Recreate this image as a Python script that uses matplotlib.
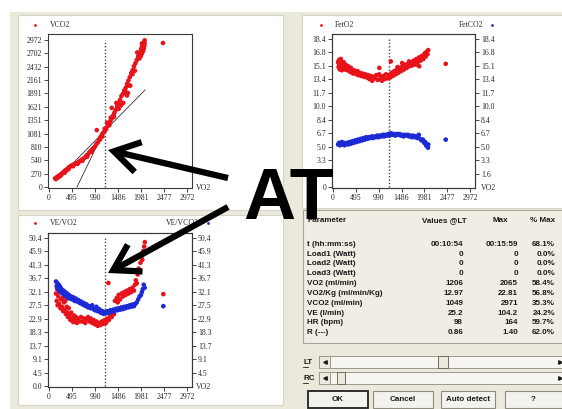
import matplotlib
matplotlib.use('Agg')
import numpy as np
import matplotlib.pyplot as plt
from matplotlib.patches import Rectangle, FancyArrowPatch

W, H = 562, 409
plt.rcParams['font.family'] = ['Liberation Serif', 'DejaVu Serif']

# ---------------- data ----------------
vo2_tick_labels = ['0', '495', '990', '1486', '1981', '2477', '2972']
vco2_tick_labels = ['0', '270', '540', '810', '1081', '1351', '1621', '1891', '2161', '2432', '2702', '2972']
fe_tick_labels = ['0', '1.6', '3.3', '5.0', '6.7', '8.4', '10.0', '11.7', '13.4', '15.1', '16.8', '18.4']
eq_tick_labels = ['0.0', '4.5', '9.1', '13.7', '18.3', '22.9', '27.5', '32.1', '36.7', '41.3', '45.9', '50.4']
vo2_max_tick = 2972
vco2_max_tick = 2972
fe_max_tick = 18.4
eq_max_tick = 50.4
at_vo2 = 1206

# VCO2 vs VO2 (V-slope)
vco2_pts = [(130,175),(150,160),(170,200),(190,190),(210,230),(230,215),(250,250),(270,265),(290,280),
            (310,300),(330,315),(350,340),(370,330),(390,360),(410,380),(430,400),(450,410),(480,430),
            (510,445),(540,455),(570,470),(600,480),(630,500),(660,520),(690,545),(720,560),(750,580),
            (780,600),(810,640),(840,660),(870,700),(900,730),(930,760),(960,790),(990,820),(1020,870),
            (1050,900),(1080,950),(1110,1010),(1140,1060),(1170,1100),(1200,1130),(1230,1170),(1260,1230),
            (1290,1290),(1320,1330),(1350,1380),(1380,1440),(1410,1500),(1440,1560),(1470,1640),(1500,1700),
            (1530,1760),(1560,1840),(1590,1880),(1620,1950),(1650,2000),(1680,2080),(1710,2150),(1740,2220),
            (1770,2300),(1800,2360),(1830,2440),(1860,2500),(1890,2570),(1920,2640),(1950,2700),(1980,2780),
            (2000,2830),(2020,2880),(2040,2920),(2060,2965),
            (1030,1150),(1100,960),(1150,1020),(1200,1180),(1250,1300),(1300,1250),(1330,1400),(1350,1600),
            (1400,1420),(1450,1700),(1500,1580),(1550,1650),(1600,1700),(1650,1920),(1680,1850),(1700,1900),
            (1720,2050),(1750,2050),(1800,2280),(1850,2350),(1900,2720),(1950,2600),(2000,2700),(2030,2750),
            (2050,2850),(2060,2900),(2000,2900),(1980,2650),(2040,2800),
            (180,200),(260,240),(340,290),(420,360),(520,420),(620,470),(720,530),(820,610),(920,710),
            (2455,2911)]
vslope_low_vo2 = [200, 2068]
vslope_low_vco2 = [180, 1961]
vslope_high_vo2 = [603, 1990]
vslope_high_vco2 = [0, 2700]

# FetO2 / FetCO2 vs VO2
feto2_pts = [(110,15.5),(120,14.9),(125,15.7),(130,15.3),(140,15.8),(145,14.6),(150,15.0),(160,15.4),
             (170,15.9),(175,14.7),(185,15.6),(190,14.5),(200,15.2),(215,14.8),(230,15.5),(245,15.0),
             (260,14.6),(275,15.2),(290,14.9),(310,14.5),(330,15.0),(350,14.6),(370,14.3),(390,14.8),
             (410,14.4),(430,14.1),(455,14.5),(480,14.2),(505,14.0),(530,14.4),(555,13.9),(580,14.2),
             (610,13.8),(640,14.1),(670,13.7),(700,14.0),(730,13.6),(760,13.9),(790,13.4),(820,13.8),
             (850,13.2),(880,13.7),(910,13.5),(940,13.9),(970,13.3),(1000,14.0),(1005,14.8),(1030,13.6),
             (1060,13.2),(1090,13.8),(1120,13.4),(1150,14.0),(1180,13.5),(1210,13.9),(1240,13.6),
             (1254,15.6),(1270,14.2),(1300,13.8),(1330,14.4),(1360,14.0),(1390,14.6),(1420,14.2),
             (1450,14.8),(1480,14.4),(1510,15.0),(1540,14.6),(1570,15.2),(1600,14.8),(1630,15.3),
             (1660,15.0),(1690,15.5),(1720,15.1),(1750,15.7),(1780,15.3),(1810,15.9),(1840,15.5),
             (1870,16.1),(1900,15.7),(1930,16.3),(1960,15.9),(1990,16.6),(2010,16.2),(2030,16.8),
             (2050,16.5),(2065,17.0),(1500,15.4),(1650,15.6),(1800,15.2),(1400,14.9),(1870,15.0),
             (2445,15.3)]
fetco2_pts = [(110,5.3),(130,5.5),(150,5.2),(170,5.4),(190,5.6),(210,5.3),(230,5.5),(250,5.2),(270,5.4),
              (300,5.5),(330,5.3),(360,5.6),(390,5.4),(420,5.7),(450,5.5),(480,5.8),(510,5.6),(540,5.9),
              (570,5.7),(600,6.0),(630,5.8),(660,6.1),(690,5.9),(720,6.2),(750,6.0),(780,6.2),(810,6.1),
              (840,6.3),(870,6.1),(900,6.3),(930,6.2),(960,6.4),(990,6.2),(1020,6.4),(1050,6.3),(1080,6.5),
              (1110,6.3),(1140,6.5),(1170,6.4),(1200,6.6),(1230,6.4),(1260,6.7),(1290,6.5),(1320,6.6),
              (1350,6.4),(1380,6.6),(1410,6.5),(1440,6.6),(1470,6.4),(1500,6.5),(1530,6.3),(1560,6.5),
              (1590,6.4),(1620,6.5),(1650,6.3),(1680,6.4),(1710,6.2),(1740,6.4),(1770,6.2),(1800,6.3),
              (1830,6.1),(1860,6.5),(1890,6.0),(1920,5.8),(1950,5.9),(1980,5.5),(2000,5.6),(2020,5.2),
              (2040,5.1),(2060,4.9),(2065,5.3),(2445,5.9)]

# VE/VO2 and VE/VCO2 vs VO2
ve_vo2_pts = [(150,31.5),(165,29.0),(175,33.0),(185,27.5),(200,30.5),(215,28.0),(230,32.0),(245,26.5),
              (260,29.5),(275,27.0),(290,30.0),(305,25.5),(320,28.5),(335,26.0),(350,29.0),(365,24.5),
              (380,27.0),(395,25.0),(410,23.5),(425,26.5),(440,24.0),(460,22.5),(480,25.0),(500,23.0),
              (520,21.8),(540,24.0),(560,22.5),(580,23.5),(600,21.5),(630,23.0),(660,22.0),(690,23.5),
              (720,22.0),(750,23.0),(780,21.5),(810,22.8),(840,23.5),(870,22.0),(900,23.0),(930,21.5),
              (960,22.5),(990,21.0),(1020,22.0),(1050,20.5),(1080,21.5),(1110,20.8),(1140,22.0),
              (1170,21.2),(1200,22.5),(1230,21.5),(1260,23.0),(1278,35.1),(1290,22.5),(1320,24.0),
              (1350,23.5),(1380,25.0),(1400,24.5),(1420,29.0),(1440,26.0),(1460,30.0),(1480,28.5),
              (1500,31.0),(1530,29.5),(1560,31.5),(1590,30.5),(1620,32.0),(1650,31.0),(1680,32.5),
              (1710,31.5),(1740,33.0),(1770,32.0),(1800,33.5),(1830,32.5),(1850,34.5),(1870,36.0),
              (1890,35.0),(1910,38.0),(1930,40.0),(1950,39.0),(1970,42.0),(1990,44.0),(2010,43.0),
              (2030,46.0),(2050,47.5),(2065,49.0),(2462,31.3)]
ve_vco2_pts = [(150,35.6),(165,34.0),(180,35.0),(195,33.0),(210,34.5),(225,32.5),(240,33.8),(255,32.0),
               (270,33.0),(290,31.5),(310,32.5),(330,31.0),(350,32.0),(370,30.5),(390,31.5),(410,30.0),
               (430,31.0),(450,29.8),(475,30.5),(500,29.5),(525,30.2),(550,29.0),(575,29.8),(600,28.8),
               (630,29.3),(660,28.3),(690,28.8),(720,27.8),(750,28.3),(780,27.3),(810,27.8),(840,26.8),
               (870,27.2),(900,26.5),(930,27.5),(960,26.2),(990,25.8),(1020,27.0),(1050,25.5),(1080,26.2),
               (1110,25.0),(1140,25.6),(1170,24.6),(1200,25.2),(1230,24.8),(1260,25.5),(1290,25.0),
               (1320,25.8),(1350,25.2),(1380,26.0),(1410,25.5),(1440,26.3),(1470,25.8),(1500,26.5),
               (1530,26.0),(1560,26.8),(1590,26.2),(1620,27.0),(1650,26.5),(1680,27.2),(1710,26.8),
               (1740,27.5),(1770,27.0),(1800,27.8),(1830,27.2),(1860,28.0),(1890,28.5),(1920,29.5),
               (1950,30.5),(1980,31.0),(2000,32.0),(2020,33.0),(2040,34.5),(2060,33.5),(2462,27.2)]

# table
tbl_header = ['Parameter', 'Values @LT', 'Max', '% Max']
tbl_params = ['t (hh:mm:ss)', 'Load1 (Watt)', 'Load2 (Watt)', 'Load3 (Watt)', 'VO2 (ml/min)',
              'VO2/Kg (ml/min/Kg)', 'VCO2 (ml/min)', 'VE (l/min)', 'HR (bpm)', 'R (---)']
tbl_at = ['00:10:54', '0', '0', '0', '1206', '12.97', '1049', '25.2', '98', '0.86']
tbl_max = ['00:15:59', '0', '0', '0', '2065', '22.81', '2971', '104.2', '164', '1.40']
tbl_pct = ['68.1%', '0.0%', '0.0%', '0.0%', '58.4%', '56.8%', '35.3%', '24.2%', '59.7%', '62.0%']
buttons = ['OK', 'Cancel', 'Auto detect', '?']

RED = '#e8121a'
BLUE = '#1c2ad6'
BEIGE = '#ebe8dc'
TXT = '#2a2a2a'

fig = plt.figure(figsize=(W / 100, H / 100), dpi=100)
fig.patch.set_facecolor('white')


def px_axes(x0, y0, x1, y1):
    return fig.add_axes([x0 / W, 1 - y1 / H, (x1 - x0) / W, (y1 - y0) / H])


# ---------------- background / window ----------------
bg = px_axes(0, 0, W, H)
bg.set_xlim(0, W); bg.set_ylim(H, 0); bg.axis('off'); bg.set_zorder(0)


def rect(x0, y0, x1, y1, fc, ec='none', lw=0.8, z=1):
    bg.add_patch(Rectangle((x0, y0), x1 - x0, y1 - y0, facecolor=fc, edgecolor=ec, lw=lw, zorder=z))


rect(10, 12, W, H, BEIGE)
rect(18, 15, 283, 210, 'white', '#d8d5c8')
rect(302, 15, W + 2, 208, 'white', '#d8d5c8')
rect(18, 215, 283, 405, 'white', '#d8d5c8')
rect(303, 210, W + 2, 343, '#efede4', '#a8a598')

sfont = dict(fontsize=5.6, color=TXT, family=['Liberation Serif', 'DejaVu Serif'])
bfont = dict(fontsize=5.8, color='#1a1a1a', family=['Liberation Sans', 'DejaVu Sans'], fontweight='bold')

# legends
bg.plot([35], [25], 'o', ms=2, color=RED, mec='none', zorder=3)
bg.text(50, 25, 'VCO2', va='center', ha='left', zorder=3, **sfont)
bg.plot([321], [25], 'o', ms=2, color=RED, mec='none', zorder=3)
bg.text(335, 25, 'FetO2', va='center', ha='left', zorder=3, **sfont)
bg.plot([492], [25], 'o', ms=2, color=BLUE, mec='none', zorder=3)
bg.text(483, 25, 'FetCO2', va='center', ha='right', zorder=3, **sfont)
bg.plot([35], [223], 'o', ms=2, color=RED, mec='none', zorder=3)
bg.text(50, 223, 'VE/VO2', va='center', ha='left', zorder=3, **sfont)
bg.plot([208], [223], 'o', ms=2, color=BLUE, mec='none', zorder=3)
bg.text(199, 223, 'VE/VCO2', va='center', ha='right', zorder=3, **sfont)
bg.text(196, 188, 'VO2', va='center', ha='left', zorder=3, **sfont)
bg.text(481, 188, 'VO2', va='center', ha='left', zorder=3, **sfont)
bg.text(196, 387, 'VO2', va='center', ha='left', zorder=3, **sfont)

# table
tbl_y0, tbl_dy = 244.3, 9.82
bg.text(307, 221, tbl_header[0], va='center', ha='left', zorder=3, **bfont)
bg.text(467, 221, tbl_header[1], va='center', ha='right', zorder=3, **bfont)
bg.text(508, 221, tbl_header[2], va='center', ha='right', zorder=3, **bfont)
bg.text(555, 221, tbl_header[3], va='center', ha='right', zorder=3, **bfont)
for i, (p, a, m, c) in enumerate(zip(tbl_params, tbl_at, tbl_max, tbl_pct)):
    yy = tbl_y0 + i * tbl_dy
    bg.text(307, yy, p, va='center', ha='left', zorder=3, **bfont)
    bg.text(463, yy, a, va='center', ha='right', zorder=3, **bfont)
    bg.text(518, yy, m, va='center', ha='right', zorder=3, **bfont)
    bg.text(555, yy, c, va='center', ha='right', zorder=3, **bfont)

# sliders
for lab, yc, t0, t1 in [('LT', 362, 438, 448), ('RC', 378, 337, 345)]:
    bg.text(303, yc, lab, va='center', ha='left', zorder=3, **bfont)
    bg.plot([303, 307.5], [yc + 4.5, yc + 4.5], color='#1a1a1a', lw=0.6, zorder=3)
    rect(319, yc - 6, W + 2, yc + 6, '#f6f5f0', '#9c998c', 0.7, 2)
    rect(319, yc - 6, 330, yc + 6, BEIGE, '#9c998c', 0.7, 2)
    rect(t0, yc - 6, t1, yc + 6, BEIGE, '#6f6c62', 0.7, 3)
    bg.plot([325], [yc], marker='<', ms=2.5, color='#1a1a1a', zorder=4)
    bg.plot([560], [yc], marker='>', ms=2.5, color='#1a1a1a', zorder=4)

# buttons
for lab, x0, x1 in zip(buttons, [308, 373, 441, 505], [368, 433, 495, 566]):
    ec = '#202020' if lab == 'OK' else '#8e8b80'
    lw = 1.3 if lab == 'OK' else 0.8
    rect(x0, 391, x1, 408, '#f3f2ec', ec, lw, 2)
    bg.text((x0 + min(x1, W)) / 2, 399.5, lab, va='center', ha='center', zorder=3, **bfont)

# ---------------- data axes ----------------
xlim = (-22, 3080)
vo2_ticks = np.linspace(0, vo2_max_tick, len(vo2_tick_labels))


def style(ax, ylim, yticks, ylabels):
    ax.set_xlim(*xlim)
    ax.set_ylim(*ylim)
    ax.set_xticks(vo2_ticks)
    ax.set_xticklabels(vo2_tick_labels)
    ax.set_yticks(yticks)
    ax.set_yticklabels(ylabels)
    ax.tick_params(direction='out', length=3, width=0.6, pad=1.2, labelsize=5.6, colors=TXT)
    for s in ax.spines.values():
        s.set_linewidth(0.8)
        s.set_color('#3a3a3a')
    ax.set_facecolor('white')
    ax.set_zorder(2)


def scatter(ax, pts, color):
    xs, ys = zip(*pts)
    ax.scatter(xs, ys, s=11, color=color, edgecolors='none', zorder=3)


def right_labels(ax, ylim, yticks, ylabels):
    axr = ax.twinx()
    axr.set_ylim(*ylim)
    axr.set_yticks(yticks[1:])
    axr.set_yticklabels(ylabels[1:])
    axr.tick_params(direction='out', length=3, width=0.6, pad=1.2, labelsize=5.6, colors=TXT)
    for s in axr.spines.values():
        s.set_linewidth(0.8)
        s.set_color('#3a3a3a')


def at_line(ax, top):
    ax.plot([at_vo2, at_vo2], [0, top], ls=(0, (1, 1.4)), color='#454545', lw=1.0, zorder=2)


# top-left: VCO2 vs VO2
ax1 = px_axes(48, 34, 192, 188)
y1lim = (-20, 3093)
y1t = np.linspace(0, vco2_max_tick, len(vco2_tick_labels))
style(ax1, y1lim, y1t, vco2_tick_labels)
ax1.plot(vslope_low_vo2, vslope_low_vco2, color='#303030', lw=0.6, zorder=2)
ax1.plot(vslope_high_vo2, vslope_high_vco2, color='#303030', lw=0.6, zorder=2)
at_line(ax1, vco2_max_tick)
scatter(ax1, vco2_pts, RED)

# top-right: FetO2 / FetCO2
ax2 = px_axes(332, 34, 475, 188)
y2lim = (-0.1, 19.0)
y2t = np.linspace(0, fe_max_tick, len(fe_tick_labels))
style(ax2, y2lim, y2t, fe_tick_labels)
at_line(ax2, fe_max_tick)
scatter(ax2, feto2_pts, RED)
scatter(ax2, fetco2_pts, BLUE)
right_labels(ax2, y2lim, y2t, fe_tick_labels)

# bottom-left: VE/VO2, VE/VCO2
ax3 = px_axes(48, 233, 192, 387)
y3lim = (-0.3, 52.1)
y3t = np.linspace(0, eq_max_tick, len(eq_tick_labels))
style(ax3, y3lim, y3t, eq_tick_labels)
at_line(ax3, eq_max_tick)
scatter(ax3, ve_vo2_pts, RED)
scatter(ax3, ve_vco2_pts, BLUE)
right_labels(ax3, y3lim, y3t, eq_tick_labels)

# ---------------- overlay: AT + arrows ----------------
ov = px_axes(0, 0, W, H)
ov.set_xlim(0, W); ov.set_ylim(H, 0); ov.axis('off'); ov.set_zorder(10)
ov.patch.set_alpha(0)
ov.text(289, 219, 'AT', ha='center', va='baseline', fontsize=52, fontweight='bold',
        family=['Liberation Sans', 'DejaVu Sans'], color='black')
for tail, tip in [((228, 178), (108, 150)), ((228, 207), (108, 273))]:
    ov.add_patch(FancyArrowPatch(tail, tip, arrowstyle='->,head_length=0.9,head_width=0.55',
                                 mutation_scale=20, lw=4.5, color='black', shrinkA=0, shrinkB=0,
                                 capstyle='butt', joinstyle='miter'))

fig.savefig('out.png', dpi=100)
